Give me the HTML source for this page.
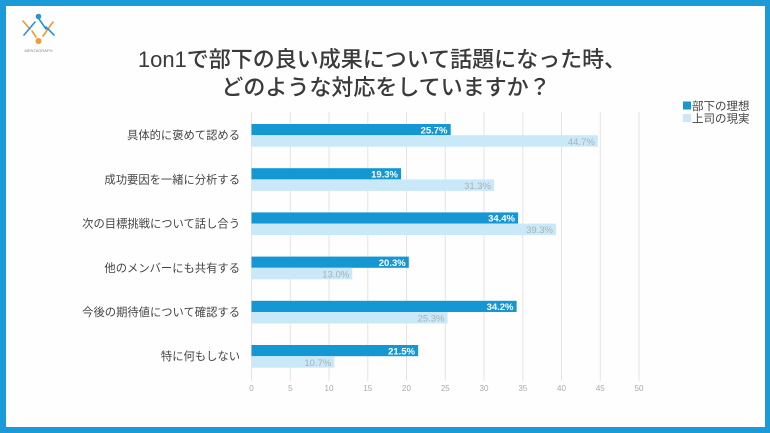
<!DOCTYPE html>
<html><head><meta charset="utf-8">
<style>
html,body{margin:0;padding:0;background:#fff;}
body{width:770px;height:433px;overflow:hidden;}
svg{display:block;}
</style></head>
<body>
<svg width="770" height="433" viewBox="0 0 770 433" xmlns="http://www.w3.org/2000/svg">
<rect x="0" y="0" width="770" height="433" fill="#1a9bd7"/>
<rect x="6" y="6" width="759" height="421" fill="#fefefe"/>

<!-- logo -->
<g stroke-width="1.6" stroke-linecap="round">
<line x1="23" y1="21" x2="30" y2="29" stroke="#f39a2b"/>
<line x1="24" y1="35" x2="35" y2="22" stroke="#2b93d1"/>
<line x1="39" y1="19" x2="46" y2="29" stroke="#2b93d1"/>
<line x1="43" y1="36" x2="53" y2="22" stroke="#f39a2b"/>
<line x1="46" y1="27" x2="54" y2="35" stroke="#2b93d1"/>
<line x1="32" y1="31" x2="36" y2="37" stroke="#f39a2b"/>
</g>
<circle cx="38.5" cy="16.5" r="2.8" fill="#2b93d1"/>
<circle cx="38.5" cy="41" r="3" fill="#f39a2b"/>
<text x="38.5" y="52" font-family="Liberation Sans, sans-serif" font-size="4" fill="#888" text-anchor="middle">MENTAGRAPH</text>

<!-- title -->
<g font-size="22" font-weight="500" fill="#3a3a3a" text-anchor="middle">
<text x="382" y="67" font-family="Liberation Sans, Noto Sans CJK JP, sans-serif">1on1で部下の良い成果について話題になった時、</text>
<text x="386" y="95" font-family="Liberation Sans, Noto Sans CJK JP, sans-serif">どのような対応をしていますか？</text>
</g>

<!-- legend -->
<rect x="683" y="101.5" width="8" height="8" fill="#1597d3"/>
<text x="692" y="110" font-family="Liberation Sans, Noto Sans CJK JP, sans-serif" font-size="11.5" fill="#444">部下の理想</text>
<rect x="683" y="114" width="8" height="8" fill="#c9e9f8"/>
<text x="692" y="122.5" font-family="Liberation Sans, Noto Sans CJK JP, sans-serif" font-size="11.5" fill="#444">上司の現実</text>

<!-- grid -->
<g stroke="#e4e4e4" stroke-width="1">
<line x1="251.5" y1="112" x2="251.5" y2="381"/>
<line x1="290.3" y1="112" x2="290.3" y2="381"/>
<line x1="329" y1="112" x2="329" y2="381"/>
<line x1="367.8" y1="112" x2="367.8" y2="381"/>
<line x1="406.5" y1="112" x2="406.5" y2="381"/>
<line x1="445.3" y1="112" x2="445.3" y2="381"/>
<line x1="484" y1="112" x2="484" y2="381"/>
<line x1="522.8" y1="112" x2="522.8" y2="381"/>
<line x1="561.5" y1="112" x2="561.5" y2="381"/>
<line x1="600.3" y1="112" x2="600.3" y2="381"/>
<line x1="639" y1="112" x2="639" y2="381"/>
</g>
<g font-family="Liberation Sans, sans-serif" font-size="8" fill="#aaa" text-anchor="middle">
<text x="251.5" y="391">0</text>
<text x="290.3" y="391">5</text>
<text x="329" y="391">10</text>
<text x="367.8" y="391">15</text>
<text x="406.5" y="391">20</text>
<text x="445.3" y="391">25</text>
<text x="484" y="391">30</text>
<text x="522.8" y="391">35</text>
<text x="561.5" y="391">40</text>
<text x="600.3" y="391">45</text>
<text x="639" y="391">50</text>
</g>

<!-- bars -->
<g>
<rect x="251.5" y="124" width="199.2" height="11.2" fill="#1597d3"/>
<rect x="251.5" y="135.2" width="346.4" height="11.5" fill="#c9e9f8"/>
<rect x="251.5" y="168.2" width="149.6" height="11.2" fill="#1597d3"/>
<rect x="251.5" y="179.4" width="242.6" height="11.5" fill="#c9e9f8"/>
<rect x="251.5" y="212.4" width="266.6" height="11.2" fill="#1597d3"/>
<rect x="251.5" y="223.6" width="304.6" height="11.5" fill="#c9e9f8"/>
<rect x="251.5" y="256.6" width="157.3" height="11.2" fill="#1597d3"/>
<rect x="251.5" y="267.8" width="100.8" height="11.5" fill="#c9e9f8"/>
<rect x="251.5" y="300.8" width="265.1" height="11.2" fill="#1597d3"/>
<rect x="251.5" y="312" width="196.1" height="11.5" fill="#c9e9f8"/>
<rect x="251.5" y="345" width="166.6" height="11.2" fill="#1597d3"/>
<rect x="251.5" y="356.2" width="82.9" height="11.5" fill="#c9e9f8"/>
</g>

<!-- value labels -->
<g font-family="Liberation Sans, sans-serif" font-size="9.5" font-weight="700" fill="#fff" text-anchor="end">
<text x="447.5" y="133.3">25.7%</text>
<text x="398" y="177.5">19.3%</text>
<text x="515" y="221.7">34.4%</text>
<text x="405.7" y="265.9">20.3%</text>
<text x="513.5" y="310.1">34.2%</text>
<text x="415" y="354.3">21.5%</text>
</g>
<g font-family="Liberation Sans, sans-serif" font-size="9.5" fill="#aab0b4" text-anchor="end">
<text x="594.8" y="144.8">44.7%</text>
<text x="491" y="189">31.3%</text>
<text x="553" y="233.2">39.3%</text>
<text x="349.2" y="277.4">13.0%</text>
<text x="444.5" y="321.6">25.3%</text>
<text x="331.3" y="365.8">10.7%</text>
</g>

<!-- category labels -->
<g font-family="Liberation Sans, Noto Sans CJK JP, sans-serif" font-size="11.3" fill="#444" text-anchor="end">
<text x="240" y="139.2">具体的に褒めて認める</text>
<text x="240" y="183.4">成功要因を一緒に分析する</text>
<text x="240" y="227.6">次の目標挑戦について話し合う</text>
<text x="240" y="271.8">他のメンバーにも共有する</text>
<text x="240" y="316">今後の期待値について確認する</text>
<text x="240" y="360.2">特に何もしない</text>
</g>
</svg>
</body></html>
